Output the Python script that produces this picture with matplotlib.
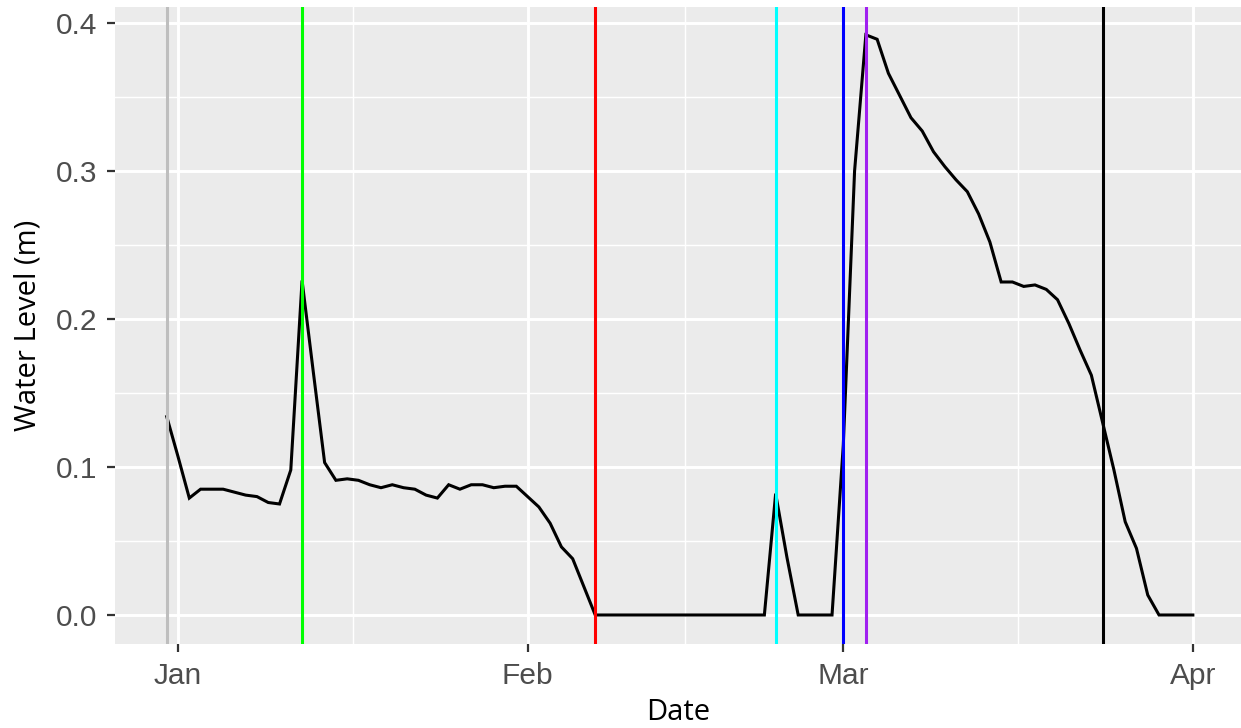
import datetime as dt
import matplotlib
matplotlib.use("Agg")
import matplotlib.pyplot as plt
import matplotlib.dates as mdates

# Daily water level (m), 31 Dec 2020 .. 1 Apr 2021
level_dec = [0.134]
level_jan = [0.107, 0.079, 0.085, 0.085, 0.085, 0.083, 0.081, 0.080, 0.076, 0.075,
             0.098, 0.226, 0.164, 0.103, 0.091, 0.092, 0.091, 0.088, 0.086, 0.088,
             0.086, 0.085, 0.081, 0.079, 0.088, 0.085, 0.088, 0.088, 0.086, 0.087,
             0.087]
level_feb = [0.080, 0.073, 0.062, 0.046, 0.038, 0.019, 0.0, 0.0, 0.0, 0.0,
             0.0, 0.0, 0.0, 0.0, 0.0, 0.0, 0.0, 0.0, 0.0, 0.0,
             0.0, 0.0, 0.082, 0.039, 0.0, 0.0, 0.0, 0.0]
level_mar = [0.115, 0.300, 0.392, 0.389, 0.366, 0.351, 0.336, 0.327, 0.313, 0.303,
             0.294, 0.286, 0.271, 0.252, 0.225, 0.225, 0.222, 0.223, 0.220, 0.213,
             0.197, 0.179, 0.162, 0.130, 0.098, 0.063, 0.045, 0.0135, 0.0, 0.0,
             0.0]
level_apr = [0.0]

start_date = dt.date(2020, 12, 31)

# Event markers
event_dates = ["2020-12-31", "2021-01-12", "2021-02-07", "2021-02-23",
               "2021-03-01", "2021-03-03", "2021-03-24"]
event_colors = ["#BEBEBE", "#00FF00", "#FF0000", "#00FFFF",
                "#0000FF", "#A020F0", "#000000"]

x_tick_dates = ["2021-01-01", "2021-02-01", "2021-03-01", "2021-04-01"]
x_tick_labels = ["Jan", "Feb", "Mar", "Apr"]
y_ticks = [0.0, 0.1, 0.2, 0.3, 0.4]
y_tick_labels = ["0.0", "0.1", "0.2", "0.3", "0.4"]

levels = level_dec + level_jan + level_feb + level_mar + level_apr
dates = [start_date + dt.timedelta(days=i) for i in range(len(levels))]

W, H, DPI = 1241, 728, 100
fig = plt.figure(figsize=(W / DPI, H / DPI), dpi=DPI)
ax = fig.add_axes([115 / W, 1 - 644 / H, (1241 - 115) / W, (644 - 7) / H])
ax.set_facecolor("#EBEBEB")
for s in ax.spines.values():
    s.set_visible(False)

# Gridlines
xt = [mdates.date2num(dt.date.fromisoformat(d)) for d in x_tick_dates]
x_minor = [(a + b) / 2 for a, b in zip(xt[:-1], xt[1:])]
ax.set_xticks(xt)
ax.set_xticks(x_minor, minor=True)
ax.set_yticks(y_ticks)
ax.set_yticks([0.05, 0.15, 0.25, 0.35], minor=True)
ax.grid(which="major", color="white", linewidth=2.1, zorder=0)
ax.grid(which="minor", color="white", linewidth=1.05, zorder=0)
ax.set_axisbelow(True)

ax.plot(dates, levels, color="black", linewidth=2.2, zorder=3,
        solid_joinstyle="miter")
for d, c in zip(event_dates, event_colors):
    ax.axvline(mdates.date2num(dt.date.fromisoformat(d)), color=c,
               linewidth=2.2, zorder=4)

jan1 = mdates.date2num(dt.date(2021, 1, 1))
ax.set_xlim(jan1 - 5.59, jan1 + 94.27)
ax.set_ylim(-0.0196, 0.4108)

tick_font = dict(family=["Liberation Sans", "DejaVu Sans"], size=21.5)
ax.set_xticklabels(x_tick_labels, color="#4D4D4D", **tick_font)
ax.set_yticklabels(y_tick_labels, color="#4D4D4D", **tick_font)
ax.tick_params(which="major", length=6, width=1.6, color="#333333")
ax.tick_params(which="minor", length=0)
ax.tick_params(axis="y", pad=7)
ax.tick_params(axis="x", pad=7)

title_font = dict(family=["Open Sans", "DejaVu Sans"], size=21)
ax.set_xlabel("Date", color="black", labelpad=6, **title_font)
ax.set_ylabel("Water Level (m)", color="black", labelpad=9, **title_font)

fig.savefig("out.png", dpi=DPI, facecolor="white")
